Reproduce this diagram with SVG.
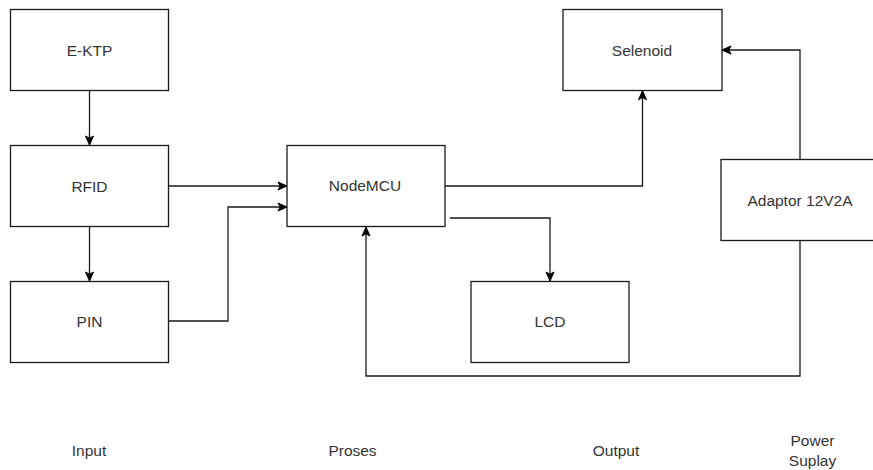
<svg xmlns="http://www.w3.org/2000/svg" width="873" height="470" viewBox="0 0 873 470">
<style>
.box{fill:#fff;stroke:#1a1a1a;stroke-width:1.3}
.lbl{font-family:"Liberation Sans",Arial,sans-serif;font-size:15.5px;fill:#333;text-anchor:middle;dominant-baseline:central}
.edge{fill:none;stroke:#1a1a1a;stroke-width:1.3}
</style>
<defs>
<marker id="arr" markerUnits="userSpaceOnUse" markerWidth="12" markerHeight="12" refX="9" refY="4" orient="auto" overflow="visible">
<path d="M0,0 L9,4 L0,8 L2.2,4 Z" fill="#000" stroke="#000" stroke-width="1"/>
</marker>
</defs>
<rect width="873" height="470" fill="#fff"/>
<g id="connectors">
<path class="edge" d="M89.5,90.7 V145" marker-end="url(#arr)"/>
<path class="edge" d="M89.5,227 V281" marker-end="url(#arr)"/>
<path class="edge" d="M169,186 H287" marker-end="url(#arr)"/>
<path class="edge" d="M169,321 H228 V207 H287" marker-end="url(#arr)"/>
<path class="edge" d="M445,186 H642.5 V90.7" marker-end="url(#arr)"/>
<path class="edge" d="M450,218 H550 V281" marker-end="url(#arr)" stroke="#333"/>
<path class="edge" d="M800,159.5 V50 H722" marker-end="url(#arr)"/>
<path class="edge" d="M800,240.5 V376 H366 V227" marker-end="url(#arr)"/>
</g>
<g id="ektp"><rect class="box" x="10.5" y="9.5" width="158" height="81"/><text class="lbl" x="89.5" y="50">E-KTP</text></g>
<g id="rfid"><rect class="box" x="10.5" y="145.5" width="158" height="81"/><text class="lbl" x="89.5" y="186">RFID</text></g>
<g id="pin"><rect class="box" x="10.5" y="281.5" width="158" height="81"/><text class="lbl" x="89.5" y="321">PIN</text></g>
<g id="nodemcu"><rect class="box" x="287" y="145.5" width="158" height="81"/><text class="lbl" x="365" y="185">NodeMCU</text></g>
<g id="selenoid"><rect class="box" x="563" y="9.5" width="159" height="81"/><text class="lbl" x="642" y="50">Selenoid</text></g>
<g id="lcd"><rect class="box" x="471" y="281.5" width="158" height="81"/><text class="lbl" x="550" y="321">LCD</text></g>
<g id="adaptor"><rect class="box" x="721" y="159.5" width="159" height="81"/><text class="lbl" x="800" y="200">Adaptor 12V2A</text></g>
<g id="labels">
<text class="lbl" x="89" y="450">Input</text>
<text class="lbl" x="352.5" y="450">Proses</text>
<text class="lbl" x="616" y="450">Output</text>
<text class="lbl" x="812.5" y="440">Power</text>
<text class="lbl" x="812.5" y="460">Suplay</text>
</g>
</svg>
